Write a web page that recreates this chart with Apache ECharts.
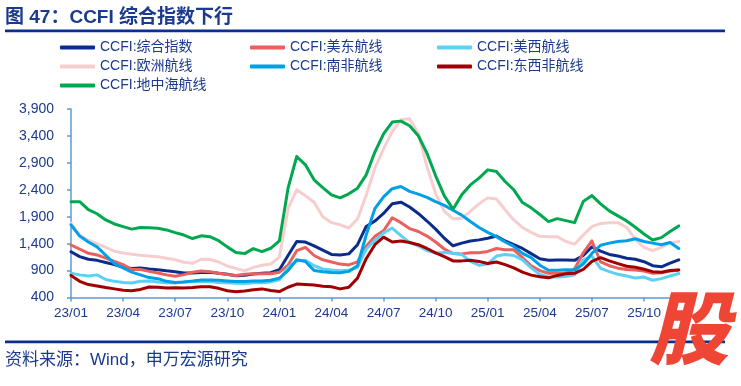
<!DOCTYPE html>
<html>
<head>
<meta charset="utf-8">
<script src="https://cdn.jsdelivr.net/npm/echarts@6/dist/echarts.min.js"></script>
<style>
html,body{margin:0;padding:0;background:#fff;}
#chart{width:741px;height:386px;}
</style>
</head>
<body>
<div id="chart"></div>
<script>
// x positions are months since 2023-01 (half-month steps)
const tickLabels = ['23/01','23/04','23/07','23/10','24/01','24/04','24/07','24/10','25/01','25/04','25/07','25/10'];
const yTicks = [400, 900, 1400, 1900, 2400, 2900, 3400, 3900];

const composite = [1250,1160,1110,1090,1050,1010,960,940,950,930,
  915,895,880,855,855,865,870,850,832,805,
  815,835,850,860,915,1180,1440,1430,1360,1280,
  1200,1190,1210,1380,1720,1820,1960,2140,2170,2080,
  1960,1820,1670,1500,1360,1410,1450,1470,1500,1540,
  1450,1380,1310,1215,1120,1090,1095,1095,1090,1180,
  1340,1260,1200,1170,1130,1110,1065,990,970,1040,
  1100];
const usEast = [1375,1300,1220,1190,1130,1070,1010,920,920,885,
  855,820,795,825,870,890,880,850,828,810,
  830,840,840,840,870,1000,1270,1330,1180,1100,
  1060,1020,1005,1060,1350,1535,1640,1880,1790,1680,
  1625,1540,1430,1300,1215,1210,1230,1230,1255,1310,
  1285,1285,1140,990,900,850,850,855,930,1230,
  1450,1060,990,945,920,910,890,850,860,890,
  910];
const usWest = [850,820,800,820,735,700,680,670,700,705,
  690,675,670,690,695,695,695,680,672,665,
  660,675,675,690,730,960,1080,1090,990,930,
  910,895,905,960,1300,1460,1600,1690,1550,1420,
  1360,1270,1225,1235,1220,1200,1070,1000,1020,1170,
  1200,1180,1100,950,830,780,780,790,820,1100,
  1170,940,880,830,800,760,780,720,750,800,
  845];
const europe = [1780,1560,1460,1400,1330,1260,1225,1205,1185,1170,
  1155,1130,1100,1055,1035,1110,1105,1060,985,940,
  895,960,1000,1020,1150,2050,2400,2290,2170,1900,
  1790,1750,1690,1860,2300,2800,3160,3480,3700,3720,
  3450,2830,2330,2000,1860,1870,2000,2140,2250,2230,
  2030,1840,1700,1610,1535,1530,1530,1440,1390,1560,
  1715,1775,1790,1790,1700,1480,1330,1270,1330,1410,
  1440];
const southAfrica = [1750,1540,1430,1340,1185,1030,950,870,820,770,
  750,700,680,690,705,725,725,720,707,695,
  695,705,705,720,760,900,1100,1070,900,880,
  865,860,885,990,1560,2050,2270,2420,2460,2370,
  2320,2260,2180,2110,2020,1930,1810,1700,1610,1530,
  1430,1350,1220,1140,1000,905,905,915,910,1020,
  1220,1370,1410,1440,1455,1490,1440,1410,1380,1420,
  1310];
const eastWestAfrica = [810,700,640,615,585,560,535,527,550,595,
  590,575,580,575,585,600,600,570,525,508,
  520,545,560,530,510,590,650,640,630,610,
  600,560,590,760,1120,1380,1520,1430,1450,1420,
  1380,1310,1230,1160,1080,1080,1090,1070,1030,1060,
  1010,950,870,815,785,765,810,840,850,920,
  1070,1140,1080,1030,980,960,925,880,870,900,
  910];
const mediterranean = [2180,2180,2030,1955,1840,1765,1715,1670,1700,1695,
  1685,1655,1605,1560,1495,1545,1530,1455,1340,1234,
  1215,1308,1252,1314,1450,2430,3018,2863,2585,2442,
  2306,2250,2325,2430,2678,3100,3440,3657,3675,3589,
  3403,3080,2660,2287,2040,2306,2490,2616,2770,2740,
  2554,2400,2163,2065,1940,1810,1865,1828,1790,2182,
  2293,2138,2008,1915,1822,1705,1580,1469,1512,1624,
  1729];

const seriesNames = ['CCFI:综合指数','CCFI:美东航线','CCFI:美西航线','CCFI:欧洲航线','CCFI:南非航线','CCFI:东西非航线','CCFI:地中海航线'];
const seriesData = [composite, usEast, usWest, europe, southAfrica, eastWestAfrica, mediterranean];
const seriesColors = ['#0C2C8C','#E8615E','#5CD0F5','#F8CDCD','#00A0E6','#A00000','#00A84F'];

const navy = '#1B3A8C';
const axisColor = '#5B9BD5';
const fontFamily = '"Liberation Sans", Arial, "Noto Sans CJK SC", sans-serif';
const xTickVals = tickLabels.map((_, i) => i * 3);

const chart = echarts.init(document.getElementById('chart'), null, {renderer: 'canvas'});

const legendCommon = {
  orient: 'vertical', padding: 0, itemWidth: 35, itemHeight: 4, itemGap: 4,
  icon: 'roundRect', selectedMode: false,
  textStyle: {color: navy, fontSize: 14, lineHeight: 15, fontFamily: fontFamily}
};

chart.setOption({
  animation: false,
  backgroundColor: '#fff',
  textStyle: {fontFamily: fontFamily},
  grid: {left: 71, right: 59.3, top: 109, bottom: 88.5, containLabel: false},
  legend: [
    Object.assign({left: 60, top: 40, data: [seriesNames[0], seriesNames[3], seriesNames[6]]}, legendCommon),
    Object.assign({left: 250, top: 40, data: [seriesNames[1], seriesNames[4]]}, legendCommon),
    Object.assign({left: 437, top: 40, data: [seriesNames[2], seriesNames[5]]}, legendCommon)
  ],
  xAxis: {
    type: 'value', min: 0, max: 35.17,
    splitLine: {show: false},
    axisLine: {show: true, lineStyle: {color: axisColor, width: 1.5}},
    axisTick: {show: true, customValues: xTickVals, length: 4, lineStyle: {color: axisColor, width: 1.5}},
    axisLabel: {customValues: xTickVals, color: navy, fontSize: 13.5, margin: 9,
      formatter: v => tickLabels[Math.round(v / 3)] || ''}
  },
  yAxis: {
    type: 'value', min: 400, max: 3900,
    splitLine: {show: false},
    axisLine: {show: true, lineStyle: {color: axisColor, width: 1.5}},
    axisTick: {show: true, customValues: yTicks, length: 4, lineStyle: {color: axisColor, width: 1.5}},
    axisLabel: {customValues: yTicks, color: navy, fontSize: 14, margin: 17,
      formatter: v => String(v).replace(/\B(?=(\d{3})+(?!\d))/g, ',')}
  },
  series: seriesNames.map((name, k) => ({
    name: name, type: 'line', showSymbol: false, symbol: 'none',
    data: seriesData[k].map((v, i) => [i * 0.5, v]),
    lineStyle: {width: 3, color: seriesColors[k], cap: 'round', join: 'round'},
    itemStyle: {color: seriesColors[k]},
    z: 2 + k
  })),
  graphic: [
    {type: 'text', left: 5, top: 8, style: {text: '图 47：CCFI 综合指数下行', fill: navy,
      font: 'bold 19px "Liberation Sans", Arial, "Noto Sans CJK SC", sans-serif'}},
    {type: 'rect', shape: {x: 5, y: 29.5, width: 720, height: 2.7}, style: {fill: '#0A2F8F'}},
    {type: 'rect', shape: {x: 5, y: 340.5, width: 720, height: 2.7}, style: {fill: '#0A2F8F'}, z: 1},
    {type: 'text', left: 5, top: 352, style: {text: '资料来源：Wind，申万宏源研究', fill: navy,
      font: '17px "Liberation Sans", Arial, "Noto Sans CJK SC", sans-serif'}},
    {type: 'text', z: 100, style: {x: 689, y: 328, text: '股', fill: '#EE4534', align: 'center', verticalAlign: 'middle',
      font: 'italic 900 80px "Noto Sans CJK SC", sans-serif'}}
  ]
});
</script>
</body>
</html>
